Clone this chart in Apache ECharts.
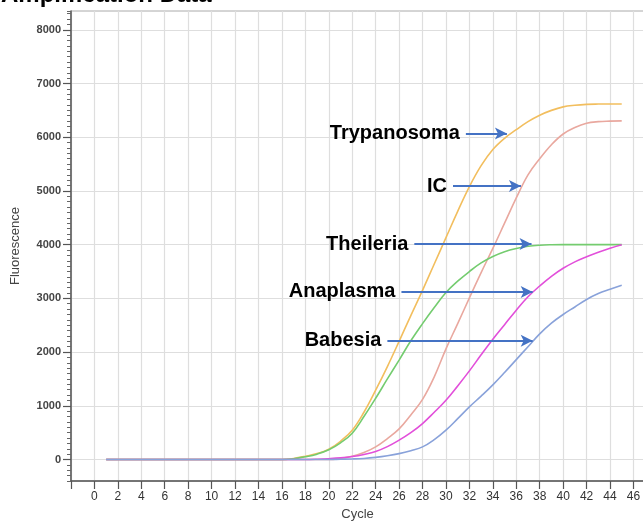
<!DOCTYPE html>
<html>
<head>
<meta charset="utf-8">
<script src="https://cdn.jsdelivr.net/npm/echarts@6/dist/echarts.min.js"></script>
<style>
html,body{margin:0;padding:0;background:#fff;overflow:hidden}
#chart{width:643px;height:522px}
</style>
</head>
<body>
<div id="chart"></div>
<script>
// ---- data ----
const cycles = [1,2,3,4,5,6,7,8,9,10,11,12,13,14,15,16,17,18,19,20,21,22,23,24,25,26,27,28,29,30,31,32,33,34,35,36,37,38,39,40,41,42,43,44,45];
const trypanosoma = [0,0,0,0,0,0,0,0,0,0,0,0,0,0,0,0,20,60,110,190,340,545,880,1290,1730,2200,2680,3150,3640,4130,4620,5080,5470,5770,5980,6140,6290,6410,6500,6565,6595,6612,6618,6620,6620];
const ic          = [0,0,0,0,0,0,0,0,0,0,0,0,0,0,0,0,0,0,0,0,20,60,130,235,390,570,830,1120,1540,2060,2530,3010,3480,3930,4400,4870,5300,5600,5860,6060,6180,6260,6290,6300,6305];
const theileria   = [0,0,0,0,0,0,0,0,0,0,0,0,0,0,0,0,15,50,100,180,310,490,800,1140,1500,1850,2210,2530,2830,3110,3320,3500,3660,3780,3870,3930,3970,3990,3998,4000,4000,4000,4000,4000,4000];
const anaplasma   = [0,0,0,0,0,0,0,0,0,0,0,0,0,0,0,0,0,0,5,15,30,55,95,150,240,360,500,670,880,1104,1370,1650,1950,2240,2510,2780,3030,3230,3410,3560,3680,3775,3860,3935,4000];
const babesia     = [0,0,0,0,0,0,0,0,0,0,0,0,0,0,0,0,0,0,0,0,5,10,20,40,70,110,165,235,370,546,760,980,1180,1390,1620,1860,2100,2340,2540,2700,2840,2980,3090,3170,3245];
const seriesNames = ['Trypanosoma','IC','Theileria','Anaplasma','Babesia'];
const yLabels = [0,1000,2000,3000,4000,5000,6000,7000,8000];
// annotation arrows: [startCycle, endCycle, fluorescence]
const arrows = [[31.7,35.2,6070],[30.6,36.4,5090],[27.3,37.3,4010],[26.2,37.4,3120],[25.0,37.4,2210]];
const colors = ['#F2BE5E','#E9A89F','#74CC6F','#E24FDA','#89A2DA'];

const values = [trypanosoma, ic, theileria, anaplasma, babesia];
const FONT = 'Liberation Sans, Arial, sans-serif';

const series = values.map((vals, i) => ({
  name: seriesNames[i],
  type: 'line',
  yAxisIndex: 1,
  smooth: 0.4,
  showSymbol: false,
  symbol: 'none',
  lineStyle: { color: colors[i], width: 1.6 },
  data: cycles.map((c, k) => [c, vals[k]]),
  markLine: {
    silent: true,
    symbol: ['none', 'arrow'],
    symbolSize: [9, 12],
    lineStyle: { color: '#4472C4', width: 2, type: 'solid' },
    label: {
      show: true,
      position: 'start',
      distance: 6,
      formatter: seriesNames[i],
      fontFamily: FONT,
      fontWeight: 'bold',
      fontSize: 20,
      color: '#000'
    },
    data: [[{ coord: [arrows[i][0], arrows[i][2]] }, { coord: [arrows[i][1], arrows[i][2]] }]]
  }
}));

const chart = echarts.init(document.getElementById('chart'));
chart.setOption({
  animation: false,
  title: {
    text: 'Amplification Data',
    left: -4, top: -22,
    textStyle: { fontFamily: FONT, fontWeight: 'bold', fontSize: 24, color: '#000' }
  },
  grid: { left: 71, top: 11, right: -1, bottom: 41, show: true, borderColor: '#aaa', borderWidth: 1, outerBoundsMode: 'none', containLabel: false },
  xAxis: {
    type: 'value', min: -2, max: 46.9, interval: 2,
    name: 'Cycle', nameLocation: 'middle', nameGap: 24,
    nameTextStyle: { fontFamily: FONT, fontSize: 13, color: '#444' },
    axisLine: { show: true, onZero: false, lineStyle: { color: '#555', width: 1.5 } },
    axisTick: { show: true, length: 8, lineStyle: { color: '#555', width: 1.2 } },
    axisLabel: {
      fontFamily: FONT, fontSize: 12, color: '#333', margin: 10, hideOverlap: false,
      formatter: v => (v < 0 ? '' : String(v))
    },
    splitLine: { show: true, lineStyle: { color: '#dedede', width: 1.2 } }
  },
  yAxis: [
    {
      type: 'value', position: 'left', min: -400, max: 8350, interval: 100,
      axisLine: { show: true, onZero: false, lineStyle: { color: '#555', width: 1.5 } },
      axisTick: { show: true, length: 4, lineStyle: { color: '#666', width: 1 } },
      axisLabel: { show: false },
      splitLine: { show: false }
    },
    {
      type: 'value', position: 'left', offset: 0, min: -400, max: 8350,
      name: 'Fluorescence', nameLocation: 'middle', nameGap: 49, nameRotate: 90,
      nameTextStyle: { fontFamily: FONT, fontSize: 13, color: '#444' },
      axisLine: { show: false, onZero: false },
      axisTick: { show: true, length: 8, customValues: yLabels, lineStyle: { color: '#555', width: 1.2 } },
      axisLabel: {
        customValues: yLabels, margin: 10,
        formatter: v => String(v),
        fontFamily: FONT, fontSize: 11, fontWeight: 'bold', color: '#444'
      },
      splitLine: { show: true, lineStyle: { color: '#dedede', width: 1.2 } }
    }
  ],
  series: series
});
</script>
</body>
</html>
